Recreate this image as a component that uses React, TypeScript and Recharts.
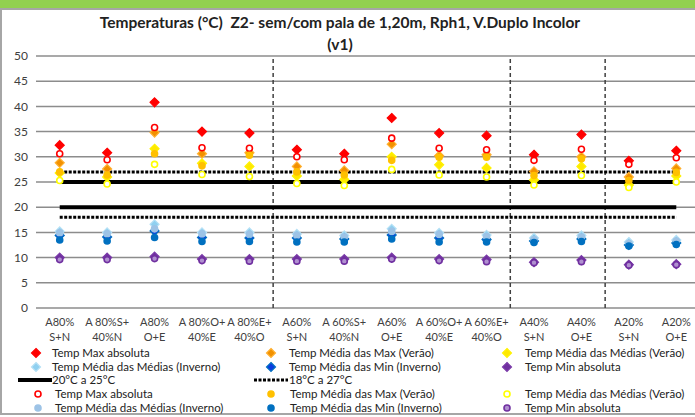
import React from 'react';
import {
  CartesianGrid,
  ComposedChart,
  Line,
  ReferenceLine,
  Scatter,
  XAxis,
  YAxis,
} from 'recharts';

// x labels, two lines each
const catLine1 = ['A80%', 'A 80%S+', 'A80%', 'A 80%O+', 'A 80%E+', 'A60%', 'A 60%S+', 'A60%', 'A 60%O+', 'A 60%E+', 'A40%', 'A40%', 'A20%', 'A20%'];
const catLine2 = ['S+N', '40%N', 'O+E', '40%E', '40%O', 'S+N', '40%N', 'O+E', '40%E', '40%O', 'S+N', 'O+E', 'S+N', 'O+E'];
const tickPositions = [1, 2, 3, 4, 5, 6, 7, 8, 9, 10, 11, 12, 13, 14];
const yTicks = [0, 5, 10, 15, 20, 25, 30, 35, 40, 45, 50];
const groupBreaks = [5.5, 10.5, 12.5];

// sem pala (diamonds)
const maxAbs = [32.3, 30.8, 40.8, 35.0, 34.7, 31.4, 30.6, 37.7, 34.7, 34.2, 30.4, 34.4, 29.2, 31.2];
const medMaxVer = [28.8, 27.6, 34.8, 30.6, 30.8, 28.1, 27.3, 32.5, 30.2, 30.4, 27.1, 30.0, 26.0, 27.7];
const medMedVer = [26.8, 26.0, 31.6, 28.7, 28.1, 26.2, 25.5, 30.0, 28.4, 27.8, 25.4, 28.1, 24.4, 26.2];
const medMedInv = [15.2, 15.0, 16.6, 15.0, 15.0, 14.7, 14.4, 15.7, 14.9, 14.5, 13.9, 14.4, 13.1, 13.5];
const medMinInv = [14.4, 14.1, 15.3, 14.0, 13.9, 13.9, 13.7, 14.5, 13.9, 13.6, 13.3, 13.7, 12.5, 12.9];
const minAbs = [10.0, 10.0, 10.2, 9.7, 9.7, 9.7, 9.7, 10.0, 9.7, 9.6, 9.1, 9.5, 8.6, 8.7];

// com pala (circles)
const maxAbsC = [30.6, 29.4, 35.8, 31.8, 31.7, 30.0, 29.4, 33.7, 31.7, 31.4, 29.3, 31.5, 28.5, 29.8];
const medMaxVerC = [27.0, 26.4, 30.6, 28.2, 30.3, 27.0, 26.4, 29.3, 29.9, 29.9, 26.3, 29.6, 25.3, 26.9];
const medMedVerC = [25.3, 24.6, 28.5, 26.5, 26.1, 24.7, 24.3, 27.5, 26.4, 26.0, 24.4, 26.3, 23.9, 25.0];
const medMedInvC = [14.9, 14.7, 15.7, 14.7, 14.6, 14.4, 14.1, 15.2, 14.6, 14.2, 13.6, 14.1, 12.8, 13.3];
const medMinInvC = [13.5, 13.3, 14.0, 13.2, 13.2, 13.1, 13.1, 13.7, 13.1, 13.1, 13.0, 13.2, 12.3, 12.6];
const minAbsC = [9.6, 9.6, 9.8, 9.4, 9.3, 9.3, 9.3, 9.7, 9.4, 9.2, 9.0, 9.2, 8.5, 8.6];

// comfort bands
const band20 = [20, 20, 20, 20, 20, 20, 20, 20, 20, 20, 20, 20, 20, 20];
const band25 = [25, 25, 25, 25, 25, 25, 25, 25, 25, 25, 25, 25, 25, 25];
const band18 = [18, 18, 18, 18, 18, 18, 18, 18, 18, 18, 18, 18, 18, 18];
const band27 = [27, 27, 27, 27, 27, 27, 27, 27, 27, 27, 27, 27, 27, 27];

const data = tickPositions.map((x, i) => ({
  x,
  maxAbs: maxAbs[i],
  medMaxVer: medMaxVer[i],
  medMedVer: medMedVer[i],
  medMedInv: medMedInv[i],
  medMinInv: medMinInv[i],
  minAbs: minAbs[i],
  maxAbsC: maxAbsC[i],
  medMaxVerC: medMaxVerC[i],
  medMedVerC: medMedVerC[i],
  medMedInvC: medMedInvC[i],
  medMinInvC: medMinInvC[i],
  minAbsC: minAbsC[i],
  b20: band20[i],
  b25: band25[i],
  b18: band18[i],
  b27: band27[i],
}));

const FONT = 'Lato, "Open Sans", sans-serif';
const TEXT = '#404040';

const diamond = (fill: string, stroke: string, r = 4.5) => (p: any) => (
  <path
    d={`M${p.cx},${p.cy - r}L${p.cx + r},${p.cy}L${p.cx},${p.cy + r}L${p.cx - r},${p.cy}Z`}
    fill={fill}
    stroke={stroke}
    strokeWidth={1.2}
  />
);

const circle = (fill: string, stroke: string, r = 3) => (p: any) => (
  <circle cx={p.cx} cy={p.cy} r={r} fill={fill} stroke={stroke} strokeWidth={1.6} />
);

const markers = {
  maxAbs: ['#FF0000', '#FF0000'],
  medMaxVer: ['#F29100', '#FFB030'],
  medMedVer: ['#FFE800', '#FFF200'],
  medMedInv: ['#8FD0F0', '#B5E0F5'],
  medMinInv: ['#0A3CE0', '#0070C0'],
  minAbs: ['#7030A0', '#7A3AA8'],
  maxAbsC: ['#FFFFFF', '#FF0000'],
  medMaxVerC: ['#FFC000', '#FFC000'],
  medMedVerC: ['#FFFFFF', '#FFFF00'],
  medMedInvC: ['#9DC3E6', '#9DC3E6'],
  medMinInvC: ['#0070C0', '#0070C0'],
  minAbsC: ['#B090D0', '#7030A0'],
};

function XTick(props: any) {
  const { x, y, payload } = props;
  const i = payload.value - 1;
  return (
    <text x={x} y={y} textAnchor="middle" fill={TEXT} fontSize={11} fontFamily={FONT}>
      <tspan x={x} dy={10}>{catLine1[i]}</tspan>
      <tspan x={x} dy={15}>{catLine2[i]}</tspan>
    </text>
  );
}

function DiamondIcon({ k }: { k: keyof typeof markers }) {
  const [fill, stroke] = markers[k];
  return (
    <svg width={12} height={12} style={{ position: 'absolute', left: -6, top: -6 }}>
      <path d="M6,1.5L10.5,6L6,10.5L1.5,6Z" fill={fill} stroke={stroke} strokeWidth={1.2} />
    </svg>
  );
}

function CircleIcon({ k }: { k: keyof typeof markers }) {
  const [fill, stroke] = markers[k];
  return (
    <svg width={12} height={12} style={{ position: 'absolute', left: -6, top: -6 }}>
      <circle cx={6} cy={6} r={3} fill={fill} stroke={stroke} strokeWidth={1.6} />
    </svg>
  );
}

function LineIcon({ dotted }: { dotted?: boolean }) {
  return (
    <svg width={34} height={8} style={{ position: 'absolute', left: -34, top: -4 }}>
      <line
        x1={0}
        x2={34}
        y1={4}
        y2={4}
        stroke="#000"
        strokeWidth={dotted ? 3 : 4}
        strokeDasharray={dotted ? '3 1.5' : undefined}
      />
    </svg>
  );
}

type LegendItem = { label: string; icon: React.ReactNode; ix: number; tx: number; y: number };

const legendItems: LegendItem[] = [
  { label: 'Temp Max absoluta', icon: <DiamondIcon k="maxAbs" />, ix: 36, tx: 52, y: 353 },
  { label: 'Temp Média das Max (Verão)', icon: <DiamondIcon k="medMaxVer" />, ix: 271, tx: 289, y: 353 },
  { label: 'Temp Média das Médias (Verão)', icon: <DiamondIcon k="medMedVer" />, ix: 507, tx: 525, y: 353 },
  { label: 'Temp Média das Médias (Inverno)', icon: <DiamondIcon k="medMedInv" />, ix: 36, tx: 52, y: 367 },
  { label: 'Temp Média das Min (Inverno)', icon: <DiamondIcon k="medMinInv" />, ix: 271, tx: 289, y: 367 },
  { label: 'Temp Min absoluta', icon: <DiamondIcon k="minAbs" />, ix: 507, tx: 525, y: 367 },
  { label: '20°C a 25°C', icon: <LineIcon />, ix: 52, tx: 52, y: 380 },
  { label: '18°C a 27°C', icon: <LineIcon dotted />, ix: 288, tx: 289, y: 380 },
  { label: 'Temp Max absoluta', icon: <CircleIcon k="maxAbsC" />, ix: 38, tx: 55, y: 393.5 },
  { label: 'Temp Média das Max (Verão)', icon: <CircleIcon k="medMaxVerC" />, ix: 271, tx: 290, y: 393.5 },
  { label: 'Temp Média das Médias (Verão)', icon: <CircleIcon k="medMedVerC" />, ix: 507, tx: 525, y: 393.5 },
  { label: 'Temp Média das Médias (Inverno)', icon: <CircleIcon k="medMedInvC" />, ix: 38, tx: 55, y: 407.5 },
  { label: 'Temp Média das Min (Inverno)', icon: <CircleIcon k="medMinInvC" />, ix: 271, tx: 290, y: 407.5 },
  { label: 'Temp Min absoluta', icon: <CircleIcon k="minAbsC" />, ix: 507, tx: 525, y: 407.5 },
];

export default function App() {
  return (
    <div
      style={{
        position: 'absolute',
        left: 0,
        top: 0,
        width: 695,
        height: 417,
        overflow: 'hidden',
        background: '#fff',
        fontFamily: FONT,
      }}
    >
      <div style={{ position: 'absolute', left: 0, top: 0, width: 695, height: 8, background: '#92D050' }} />
      <div
        style={{
          position: 'absolute',
          left: 0,
          top: 8,
          width: 720,
          height: 403,
          borderLeft: '2px solid #A6A6A6',
          borderTop: '2px solid #A6A6A6',
          borderBottom: '2px solid #A6A6A6',
        }}
      />
      <div
        style={{
          position: 'absolute',
          left: 0,
          top: 11,
          width: 680,
          textAlign: 'center',
          fontWeight: 700,
          fontSize: 15.5,
          lineHeight: '22px',
          color: '#222',
          whiteSpace: 'pre',
        }}
      >
        {'Temperaturas (°C)  Z2- sem/com pala de 1,20m, Rph1, V.Duplo Incolor\n(v1)'}
      </div>
      <div style={{ position: 'absolute', left: 0, top: 0 }}>
        <ComposedChart
          width={701}
          height={350}
          data={data}
          margin={{ top: 56, right: 1, bottom: 0, left: 0 }}
        >
          <CartesianGrid horizontal vertical={false} stroke="#8C8C8C" strokeWidth={1.5} />
          <XAxis
            type="number"
            dataKey="x"
            domain={[0.5, 14.5]}
            ticks={tickPositions}
            interval={0}
            axisLine={false}
            tickLine={false}
            height={42}
            tick={<XTick />}
          />
          <YAxis
            type="number"
            domain={[0, 50]}
            ticks={yTicks}
            width={36}
            axisLine={false}
            tickLine={false}
            tick={{ fontSize: 12, fill: TEXT, fontFamily: FONT }}
          />
          {groupBreaks.map((b) => (
            <ReferenceLine key={b} x={b} stroke="#404040" strokeWidth={1.5} strokeDasharray="4 3" />
          ))}
          <Line dataKey="b20" stroke="#000" strokeWidth={4} dot={false} isAnimationActive={false} />
          <Line dataKey="b25" stroke="#000" strokeWidth={4} dot={false} isAnimationActive={false} />
          <Line dataKey="b18" stroke="#000" strokeWidth={3} strokeDasharray="3 1.5" dot={false} isAnimationActive={false} />
          <Line dataKey="b27" stroke="#000" strokeWidth={3} strokeDasharray="3 1.5" dot={false} isAnimationActive={false} />
          {(['maxAbs', 'medMaxVer', 'medMedVer', 'medMedInv', 'medMinInv', 'minAbs'] as const).map((k) => (
            <Scatter key={k} dataKey={k} shape={diamond(markers[k][0], markers[k][1])} isAnimationActive={false} />
          ))}
          {(['maxAbsC', 'medMaxVerC', 'medMedVerC', 'medMedInvC', 'medMinInvC', 'minAbsC'] as const).map((k) => (
            <Scatter key={k} dataKey={k} shape={circle(markers[k][0], markers[k][1])} isAnimationActive={false} />
          ))}
        </ComposedChart>
      </div>
      {legendItems.map((it, i) => (
        <React.Fragment key={i}>
          <div style={{ position: 'absolute', left: it.ix, top: it.y, width: 0, height: 0 }}>{it.icon}</div>
          <div
            style={{
              position: 'absolute',
              left: it.tx,
              top: it.y - 6,
              fontSize: 11.5,
              lineHeight: '12px',
              color: '#222',
              whiteSpace: 'nowrap',
            }}
          >
            {it.label}
          </div>
        </React.Fragment>
      ))}
    </div>
  );
}
